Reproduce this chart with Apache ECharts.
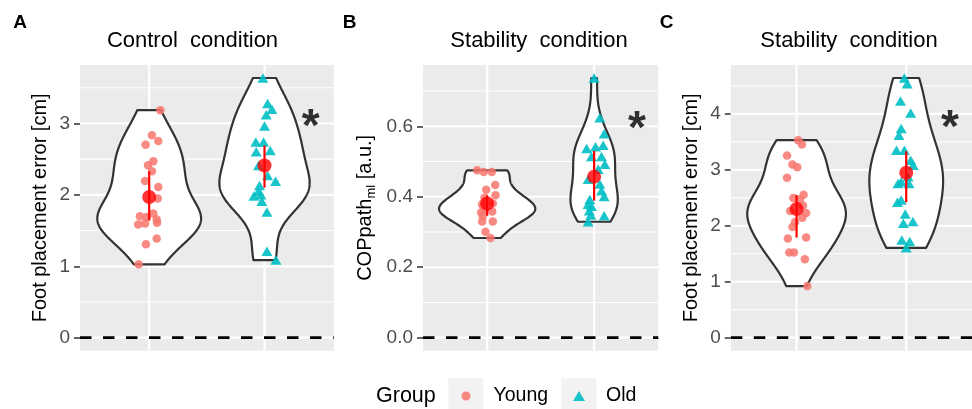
<!DOCTYPE html>
<html><head><meta charset="utf-8">
<script src="https://cdn.jsdelivr.net/npm/echarts@6/dist/echarts.min.js"></script>
<style>html,body{margin:0;padding:0;background:#fff;}#c{width:972px;height:409px;}</style>
</head><body><div id="c"></div>
<script>
// ---------------- data ----------------
const groups = ['Young', 'Old'];
const panelLetters = ['A', 'B', 'C'];
const panelTitles = ['Control  condition', 'Stability  condition', 'Stability  condition'];
const yTitles = ['Foot placement error [cm]', 'COPpath_ml [a.u.]', 'Foot placement error [cm]'];

const yTicksA = [0, 1, 2, 3];
const yMinorA = [0.5, 1.5, 2.5, 3.5];
const yTicksB = [0, 0.2, 0.4, 0.6];
const yMinorB = [0.1, 0.3, 0.5, 0.7];
const yTicksC = [0, 1, 2, 3, 4];
const yMinorC = [0.5, 1.5, 2.5, 3.5, 4.5];

const aYoungVals = [3.185,2.835,2.755,2.70,2.47,2.415,2.33,2.195,2.11,1.95,1.74,1.70,1.69,1.655,1.585,1.60,1.61,1.39,1.31,1.027];
const aYoungJit  = [0.097,0.024,0.079,-0.031,0.036,-0.010,0.024,-0.036,0.079,0.074,0.036,-0.080,-0.022,0.065,-0.095,-0.036,0.068,0.065,-0.028,-0.091];
const aOldVals   = [3.636,3.28,3.20,3.12,2.965,2.74,2.74,2.605,2.62,2.41,2.27,2.19,2.13,2.055,1.985,2.0,1.91,1.76,1.21,1.087];
const aOldJit    = [-0.014,0.027,0.064,0.015,0.0,-0.075,-0.008,-0.072,0.050,-0.052,0.027,0.096,-0.043,-0.052,-0.092,-0.031,-0.023,0.021,0.021,0.099];

const bYoungVals = [0.475,0.470,0.470,0.420,0.433,0.404,0.397,0.381,0.379,0.371,0.364,0.358,0.355,0.345,0.330,0.330,0.301,0.283];
const bYoungJit  = [-0.094,-0.032,0.043,-0.009,0.075,0.078,-0.025,0.053,-0.047,-0.035,-0.025,0.047,-0.056,-0.041,0.053,-0.047,-0.016,0.031];
const bOldVals   = [0.737,0.624,0.579,0.537,0.542,0.546,0.514,0.514,0.492,0.478,0.450,0.436,0.417,0.401,0.392,0.379,0.373,0.360,0.348,0.346,0.329];
const bOldJit    = [0,0.053,0.094,-0.07,0.013,0.085,-0.025,0.069,0.100,0.038,-0.056,0.053,0.069,0.094,-0.040,-0.056,-0.025,-0.045,-0.031,0.094,-0.056];

const cYoungVals = [3.53,3.453,3.257,3.096,3.048,2.859,2.556,2.496,2.472,2.365,2.264,2.228,2.146,2.068,1.979,1.772,1.79,1.522,1.522,1.403,0.923];
const cYoungJit  = [0.014,0.049,-0.087,-0.038,0.006,-0.087,0.064,-0.029,0.029,0.058,-0.058,0.087,0.052,-0.014,-0.038,-0.08,0.087,-0.067,-0.023,0.075,0.098];
const cOldVals   = [4.642,4.54,4.23,4.018,3.738,3.619,3.351,3.351,3.173,3.084,2.877,2.788,2.758,2.758,2.46,2.419,2.21,2.075,2.045,1.747,1.718,1.607];
const cOldJit    = [-0.017,0.009,-0.052,0.041,-0.046,-0.066,-0.089,-0.017,0.041,0.064,0.017,-0.046,-0.075,0.026,-0.046,-0.080,-0.009,0.061,-0.026,-0.040,0.032,0];

// mean and interval (Young, Old)
const aMean = [1.97, 2.41],  aLow = [1.64, 2.10],  aHigh = [2.33, 2.69];
const bMean = [0.381, 0.457], bLow = [0.346, 0.389], bHigh = [0.404, 0.530];
const cMean = [2.30, 2.948], cLow = [1.79, 2.419], cHigh = [2.55, 3.333];

// significance marks (x in category units, y in data units)
const sigX = [2.4, 2.4, 2.4];
const sigY = [3.09, 0.62, 3.92];

// ---------------- layout / style ----------------
const FONT = "'Liberation Sans', Arial, Helvetica, sans-serif";
const X_MIN = 0.4, X_MAX = 2.6;
const layouts = [
  {left: 80, width: 253.7, letterX: 20, titleX: 192.5, yTitleX: 40},
  {left: 423, width: 235.3, letterX: 349.7, titleX: 539, yTitleX: 365},
  {left: 730.8, width: 253.7, letterX: 666.7, titleX: 849, yTitleX: 691.5}
];
const GRID_TOP = 65, GRID_H = 285.7;
const COL_Y = '#F8766D', COL_O = '#00BFC4';

// ---------------- helpers ----------------
function q7(s, p) { const h = (s.length - 1) * p, lo = Math.floor(h), hi = Math.ceil(h); return s[lo] + (h - lo) * (s[hi] - s[lo]); }
function bwNrd0(x) {
  const n = x.length, m = x.reduce((a, b) => a + b, 0) / n;
  const sd = Math.sqrt(x.reduce((a, b) => a + (b - m) * (b - m), 0) / (n - 1));
  const s = [...x].sort((a, b) => a - b);
  let lo = Math.min(sd, (q7(s, 0.75) - q7(s, 0.25)) / 1.34);
  if (!(lo > 0)) lo = sd || 1;
  return 0.9 * lo * Math.pow(n, -0.2);
}
function kde(x, n) {
  n = n || 256;
  const bw = bwNrd0(x), mn = Math.min(...x), mx = Math.max(...x);
  const ys = [], ds = [];
  for (let i = 0; i < n; i++) {
    const y = mn + (mx - mn) * i / (n - 1);
    let d = 0;
    for (const v of x) { const z = (y - v) / bw; d += Math.exp(-0.5 * z * z); }
    ys.push(y); ds.push(d / (x.length * bw * Math.sqrt(2 * Math.PI)));
  }
  return {ys, ds};
}
function expandRange(vals) {
  const mx = Math.max(...vals), mn = Math.min(...vals), pad = (mx - mn) * 0.05;
  return [mn - pad, mx + pad];
}

const panelsData = [
  {young: aYoungVals, yj: aYoungJit, old: aOldVals, oj: aOldJit, mean: aMean, lo: aLow, hi: aHigh, ticks: yTicksA, minor: yMinorA, fmt: v => String(v)},
  {young: bYoungVals, yj: bYoungJit, old: bOldVals, oj: bOldJit, mean: bMean, lo: bLow, hi: bHigh, ticks: yTicksB, minor: yMinorB, fmt: v => v.toFixed(1)},
  {young: cYoungVals, yj: cYoungJit, old: cOldVals, oj: cOldJit, mean: cMean, lo: cLow, hi: cHigh, ticks: yTicksC, minor: yMinorC, fmt: v => String(v)}
];

const grid = [], xAxis = [], yAxis = [], series = [], graphic = [];

function lineItem(params, api, style) {
  const p1 = api.coord([api.value(0), api.value(1)]);
  const p2 = api.coord([api.value(2), api.value(3)]);
  return {type: 'line', shape: {x1: p1[0], y1: p1[1], x2: p2[0], y2: p2[1]}, style: style};
}

panelsData.forEach((d, i) => {
  const L = layouts[i];
  const [ymin, ymax] = expandRange([0, ...d.young, ...d.old]);
  grid.push({left: L.left, top: GRID_TOP, width: L.width, height: GRID_H, show: true,
    backgroundColor: '#EBEBEB', borderWidth: 0});
  xAxis.push({gridIndex: i, type: 'value', min: X_MIN, max: X_MAX, show: false});
  yAxis.push({gridIndex: i, type: 'value', min: ymin, max: ymax,
    axisLine: {show: false}, splitLine: {show: false}, minorTick: {show: false},
    axisTick: {show: true, length: 6, customValues: d.ticks, lineStyle: {color: '#333333', width: 1.5}},
    axisLabel: {customValues: d.ticks, color: '#4D4D4D', fontSize: 19, fontFamily: FONT, margin: 10, formatter: d.fmt}});
  const base = {xAxisIndex: i, yAxisIndex: i, silent: true, animation: false};

  // grid lines through the scales
  const gl = [];
  d.minor.forEach(v => { if (v < ymax) gl.push([X_MIN, v, X_MAX, v, 1.1]); });
  d.ticks.forEach(v => gl.push([X_MIN, v, X_MAX, v, 2.2]));
  [1, 2].forEach(c => gl.push([c, ymin, c, ymax, 2.2]));
  series.push(Object.assign({type: 'custom', z: 1, data: gl, encode: {x: [0, 2], y: [1, 3]},
    renderItem: (p, api) => lineItem(p, api, {stroke: '#FFFFFF', lineWidth: api.value(4)})}, base));

  // zero reference line
  series.push(Object.assign({type: 'custom', z: 2, data: [[X_MIN, 0, X_MAX, 0]], encode: {x: [0, 2], y: [1, 3]},
    renderItem: (p, api) => lineItem(p, api, {stroke: '#000000', lineWidth: 2.8, lineDash: [11.5, 11.5]})}, base));

  // violins (gaussian KDE, bw.nrd0, trimmed, scale = area)
  const kY = kde(d.young), kO = kde(d.old);
  const dmax = Math.max(...kY.ds, ...kO.ds);
  const polys = [[1, kY], [2, kO]].map(([cx, k]) => {
    const right = k.ys.map((y, j) => [cx + 0.45 * k.ds[j] / dmax, y]);
    const left = k.ys.map((y, j) => [cx - 0.45 * k.ds[j] / dmax, y]).reverse();
    return right.concat(left);
  });
  series.push(Object.assign({type: 'custom', z: 3,
    data: [[1, Math.min(...d.young)], [2, Math.min(...d.old)]], encode: {x: 0, y: 1},
    renderItem: (p, api) => ({type: 'polygon', shape: {points: polys[p.dataIndex].map(pt => api.coord(pt))},
      style: {fill: '#FFFFFF', stroke: '#333333', lineWidth: 2.2, lineJoin: 'round'}})}, base));

  // jittered points
  series.push(Object.assign({type: 'scatter', name: 'Young', z: 4, symbol: 'circle', symbolSize: 8.5,
    itemStyle: {color: COL_Y, opacity: 0.85},
    data: d.young.map((v, j) => [1 + d.yj[j], v])}, base));
  series.push(Object.assign({type: 'scatter', name: 'Old', z: 4, symbol: 'triangle', symbolSize: [11, 9.5],
    itemStyle: {color: COL_O, opacity: 0.9},
    data: d.old.map((v, j) => [2 + d.oj[j], v])}, base));

  // interval bars
  series.push(Object.assign({type: 'custom', z: 5, data: [[1, d.lo[0], 1, d.hi[0]], [2, d.lo[1], 2, d.hi[1]]],
    encode: {x: [0, 2], y: [1, 3]},
    renderItem: (p, api) => lineItem(p, api, {stroke: '#FF0000', lineWidth: 2.2})}, base));
  // means
  series.push(Object.assign({type: 'scatter', z: 6, symbol: 'circle', symbolSize: 14,
    itemStyle: {color: '#FF0000'}, data: [[1, d.mean[0]], [2, d.mean[1]]]}, base));
  // significance asterisk
  series.push(Object.assign({type: 'scatter', z: 7, symbolSize: 1, itemStyle: {color: 'transparent'},
    data: [[sigX[i], sigY[i]]],
    label: {show: true, position: 'inside', formatter: '*', fontSize: 46, fontWeight: 'bold', color: '#000', fontFamily: FONT, offset: [0, 11]}}, base));

  // panel letter & title
  graphic.push({type: 'text', x: L.letterX, y: 22.5, style: {text: panelLetters[i], font: 'bold 19px ' + FONT, fill: '#000', align: 'center', verticalAlign: 'middle'}});
  graphic.push({type: 'text', x: L.titleX, y: 41, style: {text: panelTitles[i], font: '22px ' + FONT, fill: '#000', align: 'center', verticalAlign: 'middle'}});
  // y axis title
  let yt;
  if (yTitles[i].indexOf('_') >= 0) {
    const parts = yTitles[i].split('_'); // COPpath , ml [a.u.]
    const sub = parts[1].split(' ')[0];
    const rest = parts[1].slice(sub.length);
    yt = {type: 'text', x: L.yTitleX, y: GRID_TOP + GRID_H / 2, rotation: Math.PI / 2,
      style: {text: '{a|' + parts[0] + '}{s|' + sub + '}{a|' + rest + '}', align: 'center', verticalAlign: 'middle',
        rich: {a: {font: '20px ' + FONT, fill: '#000', lineHeight: 26},
               s: {font: '13px ' + FONT, fill: '#000', lineHeight: 14, verticalAlign: 'bottom'}}}};
  } else {
    yt = {type: 'text', x: L.yTitleX, y: GRID_TOP + GRID_H / 2, rotation: Math.PI / 2,
      style: {text: yTitles[i], font: '20px ' + FONT, fill: '#000', align: 'center', verticalAlign: 'middle'}};
  }
  graphic.push(yt);
});

// legend title & key backgrounds
graphic.push({type: 'text', x: 376, y: 396.5, style: {text: 'Group', font: '21.5px ' + FONT, fill: '#000', align: 'left', verticalAlign: 'middle'}});
graphic.push({type: 'rect', z: -1, shape: {x: 448.3, y: 378.3, width: 35, height: 35}, style: {fill: '#F2F2F2'}});
graphic.push({type: 'rect', z: -1, shape: {x: 561.3, y: 378.3, width: 35, height: 35}, style: {fill: '#F2F2F2'}});

const legendText = {fontSize: 19.5, color: '#000', fontFamily: FONT};
const option = {
  animation: false,
  backgroundColor: '#FFFFFF',
  grid, xAxis, yAxis, series, graphic,
  legend: [
    {data: [groups[0]], left: 461.5, top: 386, padding: 0, itemWidth: 9, itemHeight: 9, selectedMode: false,
      textStyle: Object.assign({padding: [0, 0, 0, 18]}, legendText)},
    {data: [groups[1]], left: 573, top: 386, padding: 0, itemWidth: 12, itemHeight: 10, selectedMode: false,
      textStyle: Object.assign({padding: [0, 0, 0, 16]}, legendText)}
  ]
};
const chart = echarts.init(document.getElementById('c'), null, {renderer: 'canvas'});
chart.setOption(option);
</script></body></html>
